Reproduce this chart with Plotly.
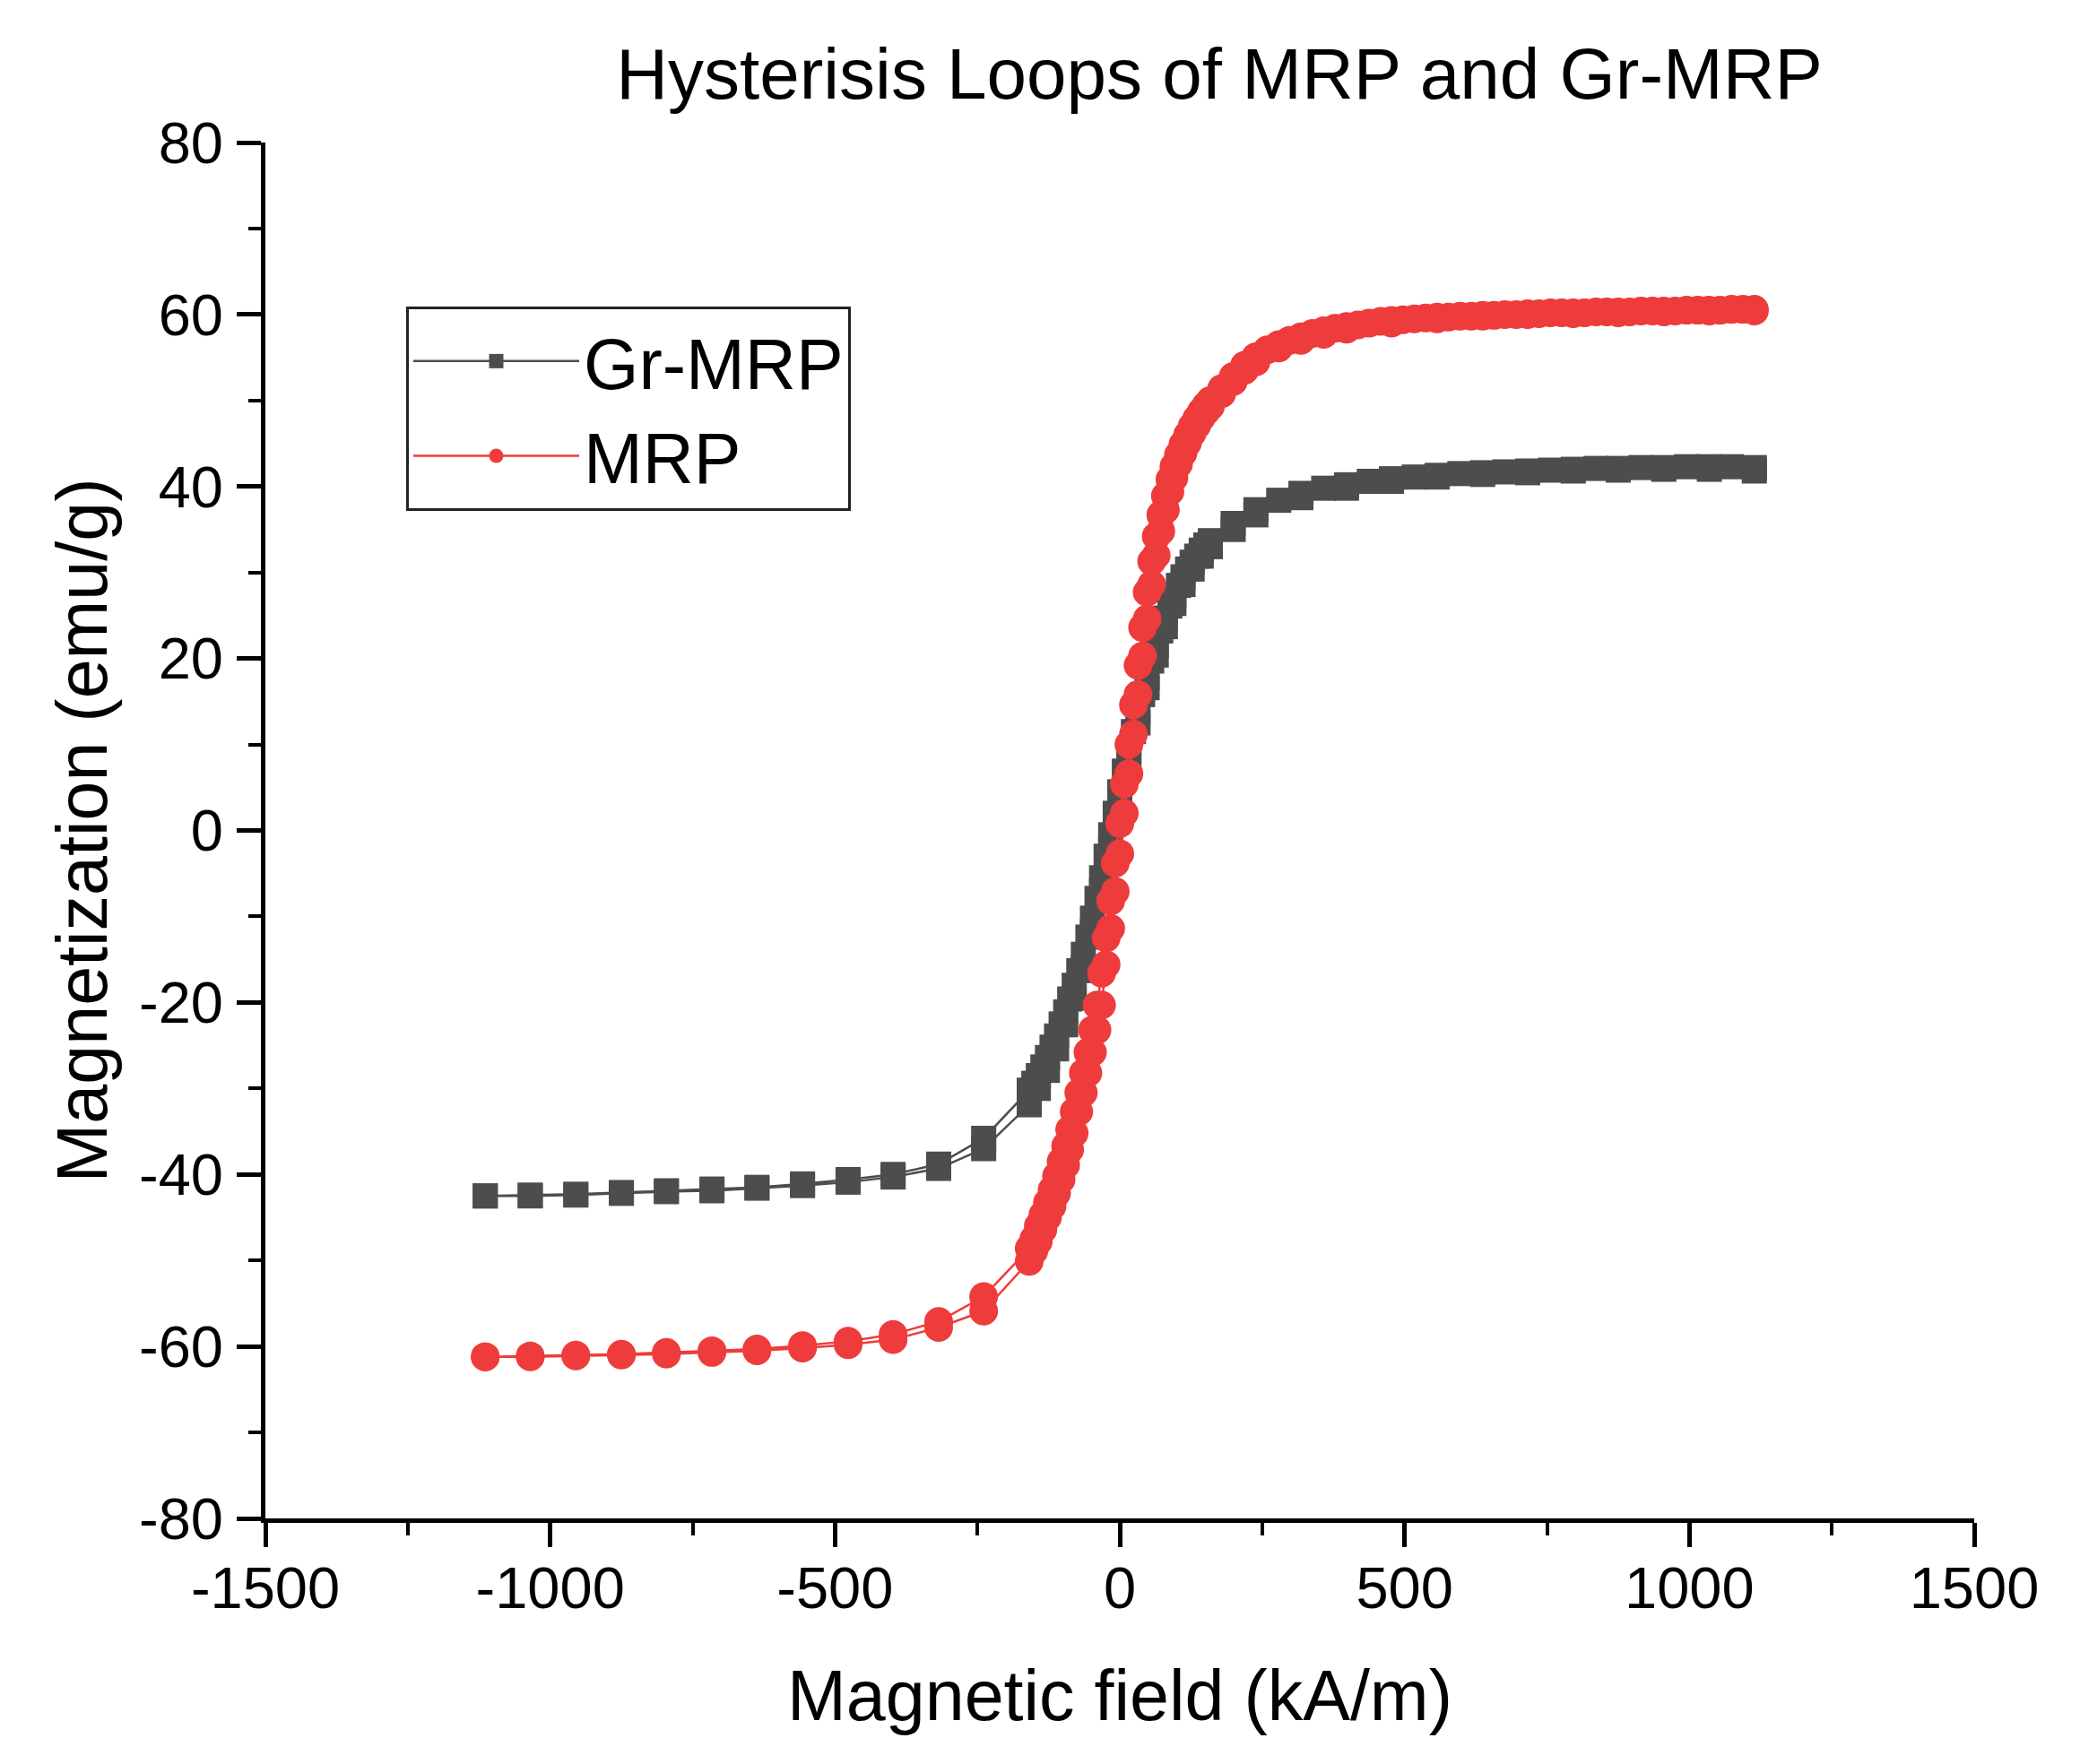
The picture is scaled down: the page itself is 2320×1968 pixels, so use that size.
import plotly.graph_objects as go

# Magnetic field values (kA/m) of the Gr-MRP descending branch (+max -> -max)
GR_H_DESC = [1114, 1074, 1034, 995, 955, 915, 875, 836, 796, 756, 716, 676, 637, 597,
             557, 517, 477, 438, 398, 358, 318, 279, 239, 199,
             159, 151, 143, 135, 127, 119, 111, 103, 95, 88,
             80, 72, 64, 56, 48, 40, 32, 24, 16, 8,
             0,
             -8, -16, -24, -32, -40, -48, -56, -64, -72, -80,
             -88, -95, -103, -111, -119, -127, -135, -143, -151, -159,
             -239, -318, -398, -477, -557, -637, -716, -796, -875, -955, -1035, -1114]

# Magnetic field values (kA/m) of the Gr-MRP ascending branch (-max -> +max)
GR_H_ASC = [-1114, -1035, -955, -875, -796, -716, -637, -557, -477, -398, -318, -239, -159,
            -143, -127, -111, -95, -80, -64, -48, -32, -16, 0, 16, 32, 48, 64, 80, 95,
            111, 127, 143, 159,
            199, 239, 318, 398, 477, 557, 637, 716, 796, 875, 955, 1035, 1114]

# Magnetic field values (kA/m) of the MRP descending branch (+max -> -max)
MRP_H_DESC = [1114, 1094, 1074, 1054, 1034, 1015, 995, 975, 955, 935,
              915, 895, 875, 855, 836, 816, 796, 776, 756, 736,
              716, 696, 676, 657, 637, 617, 597, 577, 557, 537,
              517, 497, 477, 458, 438, 418, 398, 378, 358, 338,
              318, 298, 279, 259, 239, 219, 199, 179,
              159, 151, 143, 135, 127, 119, 111, 103, 95, 88,
              80, 72, 64, 56, 48, 40, 32, 24, 16, 8,
              0,
              -8, -16, -24, -32, -40, -48, -56, -64, -72, -80,
              -88, -95, -103, -111, -119, -127, -135, -143, -151, -159,
              -239, -318, -398, -477, -557, -637, -716, -796, -875, -955, -1035, -1114]

# Magnetic field values (kA/m) of the MRP ascending branch (-max -> +max)
MRP_H_ASC = [-1114, -1035, -955, -875, -796, -716, -637, -557, -477, -398, -318, -239, -159,
             -151, -143, -135, -127, -119, -111, -103, -95, -88, -80,
             -72, -64, -56, -48, -40, -32, -24, -16, -8, 0,
             8, 16, 24, 32, 40, 48, 56, 64, 72, 80,
             88, 95, 103, 111, 119, 127, 135, 143, 151, 159,
             179, 199, 219, 239, 279, 318, 358, 398, 477, 557, 637, 716, 796, 875, 955, 1035, 1114]

# Gr-MRP magnetization (emu/g)
GR_M_DESC = [42.2, 42.3, 42.3, 42.3, 42.2, 42.2, 42.1, 42.1, 42.0, 41.9, 41.8, 41.7, 41.6, 41.5,
             41.3, 41.1, 40.9, 40.6, 40.2, 39.8, 39.2, 38.4, 37.3, 35.7,
             33.7, 33.2, 32.6, 31.9, 31.2, 30.4, 29.5, 28.5, 27.4, 26.1,
             24.7, 23.2, 21.5, 19.7, 17.8, 15.8, 13.7, 11.5, 9.2, 6.9,
             4.5,
             2.0, -0.5, -3.0, -5.5, -7.9, -10.2, -12.4, -14.4, -16.3, -18.0,
             -19.6, -21.1, -22.5, -23.9, -25.2, -26.4, -27.5, -28.5, -29.4, -30.2,
             -35.8, -38.8, -40.0, -40.6, -41.1, -41.5, -41.7, -41.9, -42.1, -42.3, -42.4, -42.5]
GR_M_ASC = [-42.5, -42.5, -42.4, -42.2, -42.0, -41.9, -41.6, -41.3, -40.9, -40.3, -39.3, -37.0, -31.9,
            -30.0, -27.9, -25.4, -22.6, -19.5, -15.9, -11.7, -7.0, -2.0, 3.1, 8.0, 12.5, 16.6, 20.4, 23.7, 26.4,
            28.6, 30.4, 31.9, 33.0,
            35.0, 36.7, 38.7, 39.8, 40.6, 41.1, 41.4, 41.6, 41.8, 41.9, 42.0, 42.0, 41.8]

# MRP magnetization (emu/g)
MRP_M_DESC = [60.6, 60.6, 60.6, 60.5, 60.5, 60.5, 60.5, 60.4, 60.4, 60.4,
              60.4, 60.3, 60.3, 60.3, 60.3, 60.2, 60.2, 60.2, 60.2, 60.1,
              60.1, 60.0, 60.0, 59.9, 59.9, 59.8, 59.8, 59.7, 59.7, 59.6,
              59.5, 59.4, 59.3, 59.2, 59.0, 58.8, 58.6, 58.4, 58.1, 57.8,
              57.4, 57.0, 56.5, 55.9, 55.1, 54.1, 52.8, 51.4,
              50.0, 49.4, 48.7, 47.9, 47.0, 46.0, 44.9, 43.7, 42.3, 40.8,
              38.9, 36.7, 34.2, 31.3, 27.7, 23.6, 19.2, 14.6, 10.0, 5.4,
              0.8,
              -3.8, -8.2, -12.5, -16.6, -20.3, -23.2, -25.8, -28.2, -30.5, -32.7,
              -34.8, -36.7, -38.5, -40.2, -41.8, -43.3, -44.7, -46.0, -47.5, -48.6,
              -54.2, -57.1, -58.6, -59.4, -59.9, -60.3, -60.5, -60.7, -60.9, -61.0, -61.1, -61.2]
MRP_M_ASC = [-61.2, -61.2, -61.1, -61.0, -60.9, -60.7, -60.5, -60.2, -59.8, -59.2, -57.8, -55.9, -50.1,
             -48.9, -47.8, -46.4, -45.0, -43.7, -42.2, -40.6, -38.9, -37.1, -35.2,
             -32.7, -30.5, -28.2, -25.8, -23.2, -20.3, -15.6, -11.4, -7.1, -2.7,
             2.0, 6.6, 11.2, 15.8, 20.3, 24.6, 28.6, 32.0, 34.8, 37.3,
             39.4, 41.0, 42.6, 43.9, 45.1, 46.2, 47.1, 48.0, 48.7, 49.3,
             50.8, 52.2, 53.5, 54.5, 56.1, 57.0, 57.7, 58.3, 59.0, 59.5, 59.8, 60.0, 60.1, 60.2, 60.3, 60.4, 60.4]

SERIES_NAMES = ["Gr-MRP", "MRP"]
X_TICKS = [-1500, -1000, -500, 0, 500, 1000, 1500]
Y_TICKS = [-80, -60, -40, -20, 0, 20, 40, 60, 80]

FONT = "Arial, 'Liberation Sans', sans-serif"
GREY = "#4d4d4d"
RED = "#ee3b3b"

fig = go.Figure()
fig.add_trace(go.Scatter(
    x=GR_H_DESC + GR_H_ASC, y=GR_M_DESC + GR_M_ASC, name=SERIES_NAMES[0],
    mode="lines+markers",
    line=dict(color=GREY, width=2.5),
    marker=dict(symbol="square", size=28, color=GREY, line=dict(width=0)),
))
fig.add_trace(go.Scatter(
    x=MRP_H_DESC + MRP_H_ASC, y=MRP_M_DESC + MRP_M_ASC, name=SERIES_NAMES[1],
    mode="lines+markers",
    line=dict(color=RED, width=2.5),
    marker=dict(symbol="circle", size=32, color=RED, line=dict(width=0)),
))

axis_common = dict(
    showline=True, linecolor="black", linewidth=5, mirror=False,
    showgrid=False, zeroline=False, automargin=False,
    ticks="outside", ticklen=27, tickwidth=5, tickcolor="black",
    tickfont=dict(family=FONT, size=65, color="black"),
)

ML, MR, MT, MB = 288, 126, 151, 282
PW = 2320 - ML - MR
PH = 1968 - MT - MB

fig.update_layout(
    width=2320, height=1968,
    paper_bgcolor="white", plot_bgcolor="white",
    margin=dict(l=ML, r=MR, t=MT, b=MB),
    font=dict(family=FONT, color="black"),
    title=dict(text="Hysterisis Loops of MRP and Gr-MRP",
               x=1352 / 2320, xref="container", xanchor="center",
               y=1 - 74 / 1968, yref="container", yanchor="middle",
               font=dict(family=FONT, size=80, color="black")),
    xaxis=dict(
        range=[-1500, 1500], tickmode="array", tickvals=X_TICKS,
        ticktext=[str(v) for v in X_TICKS],
        minor=dict(ticks="outside", dtick=250, tick0=0, ticklen=14, tickwidth=4, tickcolor="black"),
        title=dict(text="Magnetic field (kA/m)", standoff=58,
                   font=dict(family=FONT, size=79, color="black")),
        ticklabelstandoff=-10,
        **axis_common,
    ),
    yaxis=dict(
        range=[-80, 80], tickmode="array", tickvals=Y_TICKS,
        ticktext=[str(v) for v in Y_TICKS],
        minor=dict(ticks="outside", dtick=10, tick0=0, ticklen=14, tickwidth=4, tickcolor="black"),
        title=dict(text="Magnetization (emu/g)", standoff=11,
                   font=dict(family=FONT, size=79, color="black")),
        ticklabelstandoff=2,
        **axis_common,
    ),
    legend=dict(
        x=(445 - ML) / PW, y=(1968 - MB - 334) / PH, xanchor="left", yanchor="top",
        bgcolor="white", bordercolor="#222", borderwidth=3,
        font=dict(family=FONT, size=79, color="black"),
        itemwidth=185, tracegroupgap=0,
    ),
    showlegend=True,
)

fig.write_html("out.html")
